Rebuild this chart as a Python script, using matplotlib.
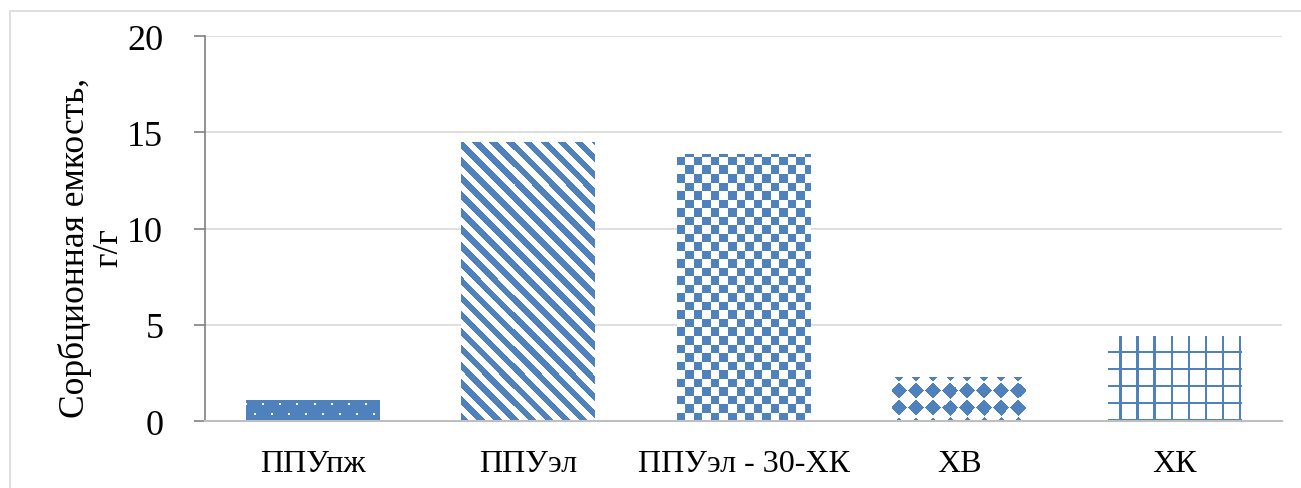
import numpy as np
import matplotlib
matplotlib.use('Agg')
import matplotlib.pyplot as plt
from matplotlib.patches import Rectangle
from matplotlib.colors import ListedColormap

plt.rcParams['font.family'] = ['Liberation Serif', 'DejaVu Serif']

categories = ['ППУпж', 'ППУэл', 'ППУэл - 30-ХК', 'ХВ', 'ХК']
values = [1.1, 14.5, 13.9, 2.3, 4.4]
yticks = [0, 5, 10, 15, 20]
blue = '#4f81bd'

fig = plt.figure(figsize=(13.01, 4.89), dpi=100)
ax = fig.add_axes([0.1576, 0.137, 0.828, 0.787])
fig.patches.append(Rectangle((10/1301, -0.05), 1.1, 1 - 12/489 + 0.05, transform=fig.transFigure,
                             fill=False, edgecolor='#d9d9d9', linewidth=1.2))

x = np.arange(len(categories))
w = 0.62
ax.set_xlim(-0.5, len(categories) - 0.5)
ax.set_ylim(0, 20)

px_x = 0.828 * 1301 / 5.0   # pixels per x unit
px_y = 0.787 * 489 / 20.0   # pixels per y unit

# pattern fills drawn as images clipped to the bar
def pattern_bar(i, v, mask_fn, res=3):
    b = ax.bar(x[i], v, w, color='white', linewidth=0)[0]
    nx = int(w * px_x * res) + 4
    ny = int(v * px_y * res) + 4
    yy, xx = (np.mgrid[0:ny, 0:nx] + 0.5) / res
    img = mask_fn(xx, yy).astype(float)
    im = ax.imshow(img, cmap=ListedColormap(['white', blue]), vmin=0, vmax=1,
                   extent=(x[i] - w/2, x[i] - w/2 + nx / res / px_x, 0, ny / res / px_y),
                   origin='lower', interpolation='nearest', aspect='auto', zorder=2)
    im.set_clip_path(b)

def dots(xx, yy):
    row = np.floor((yy - 6) / 9).astype(int)
    fy = ((yy - 6) % 9) < 2
    fx = ((xx - 8 + (row % 2) * 8.5) % 17) < 2
    return ~(fx & fy)

def stripes(xx, yy):
    return ((xx + yy) % 17) < 8.5

def checker(xx, yy):
    return ((np.floor(xx / 8.5) + np.floor(yy / 8.5)) % 2) == 0

def diamonds(xx, yy):
    fx = ((xx - 7 + 8.5) % 17) - 8.5
    fy = ((yy - 13 + 8.5) % 17) - 8.5
    return (np.abs(fx) + np.abs(fy)) < 8.0

def grid(xx, yy):
    return (((xx - 11.5) % 17) < 2.2) | ((yy % 17) < 1.6)

fills = [dots, stripes, checker, diamonds, grid]
for i, v in enumerate(values):
    pattern_bar(i, v, fills[i])

ax.set_xlim(-0.5, len(categories) - 0.5)
ax.set_ylim(0, 20)
ax.set_yticks(yticks)
ax.set_yticklabels([str(t) for t in yticks], fontsize=26)
ax.set_xticks(x)
ax.set_xticklabels(categories, fontsize=23)
ax.tick_params(axis='x', length=0, pad=20)
ax.tick_params(axis='y', length=8, color='#808080', width=1.2, pad=22)
ax.yaxis.grid(True, color='#d9d9d9', linewidth=1.2)
ax.set_axisbelow(True)
for s in ['top', 'right']:
    ax.spines[s].set_visible(False)
ax.spines['left'].set_color('#808080')
ax.spines['left'].set_linewidth(1.2)
ax.spines['bottom'].set_color('#bfbfbf')
ax.spines['bottom'].set_linewidth(1.5)
ax.set_ylabel('Сорбционная емкость,\nг/г', fontsize=25.5, linespacing=1.0)
ax.yaxis.set_label_coords(-0.074, 0.452)

fig.savefig('out.png', dpi=100)
